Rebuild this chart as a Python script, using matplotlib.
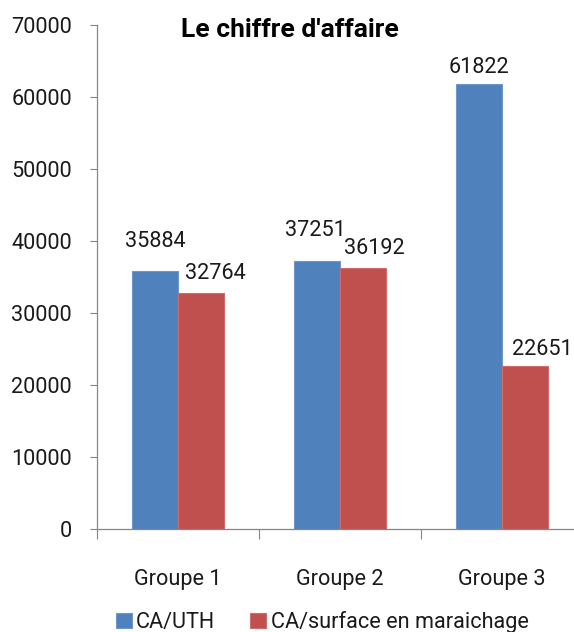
import matplotlib
matplotlib.use("Agg")
import matplotlib.pyplot as plt
from matplotlib import font_manager
import numpy as np

groups = ["Groupe 1", "Groupe 2", "Groupe 3"]
series_names = ["CA/UTH", "CA/surface en maraichage"]
ca_uth = [35884, 37251, 61822]
ca_surface = [32764, 36192, 22651]
y_ticks = [0, 10000, 20000, 30000, 40000, 50000, 60000, 70000]

# label offsets (pixels) from the top centre of each bar
uth_offsets = [(0, 29), (-2, 30), (0, 16)]
surf_offsets = [(14, 20), (11, 20), (17, 16)]

names = {f.name for f in font_manager.fontManager.ttflist}
base_font = "Liberation Sans Narrow" if "Liberation Sans Narrow" in names else "Roboto"
plt.rcParams["font.family"] = [base_font, "DejaVu Sans"]

blue = "#4F81BD"
red = "#C0504D"
grey = "#868686"

W, H = 574, 632
fig = plt.figure(figsize=(W / 100, H / 100), dpi=100)
ax = fig.add_axes([97 / W, (H - 529) / H, (583 - 97) / W, (529 - 25) / H])

x = np.arange(len(groups))
bw = 0.284
b1 = ax.bar(x - bw / 2, ca_uth, bw, color=blue, edgecolor="#6F97CC", linewidth=0.8, label=series_names[0])
b2 = ax.bar(x + bw / 2, ca_surface, bw, color=red, edgecolor="#D06C69", linewidth=0.8, label=series_names[1])

fs = 15.6
for rects, vals, offs in ((b1, ca_uth, uth_offsets), (b2, ca_surface, surf_offsets)):
    for r, v, (dx, dy) in zip(rects, vals, offs):
        ax.annotate(str(v), (r.get_x() + r.get_width() / 2, v),
                    xytext=(dx * 0.72, dy * 0.72), textcoords="offset points",
                    ha="center", va="center", fontsize=fs, color="#1a1a1a",
                    annotation_clip=False)

ax.set_xlim(-0.5, len(groups) - 0.5)
ax.set_ylim(0, 70000)
ax.set_yticks(y_ticks)
ax.set_yticklabels([str(t) for t in y_ticks], fontsize=fs, color="#1a1a1a")
ax.tick_params(axis="y", length=5, width=0.8, color=grey, pad=13)

ax.set_xticks(x)
ax.set_xticklabels(groups, fontsize=fs, color="#1a1a1a")
ax.tick_params(axis="x", which="major", length=0, pad=29)
ax.set_xticks(np.arange(len(groups) + 1) - 0.5, minor=True)
ax.tick_params(axis="x", which="minor", length=7, width=0.8, color=grey, direction="out")

for s in ("top", "right"):
    ax.spines[s].set_visible(False)
for s in ("left", "bottom"):
    ax.spines[s].set_color(grey)
    ax.spines[s].set_linewidth(0.9)

fig.text(290 / W, 1 - 30 / H, "Le chiffre d'affaire", ha="center", va="center",
         fontsize=19, fontweight="bold", color="#000000")

leg = fig.legend(handles=[b1, b2], labels=series_names, loc="center",
                 bbox_to_anchor=(322 / W, 1 - 622 / H), ncol=2, frameon=False,
                 fontsize=fs, handlelength=0.75, handleheight=0.75,
                 handletextpad=0.2, columnspacing=1.6)
for t in leg.get_texts():
    t.set_color("#1a1a1a")

fig.savefig("out.png", dpi=100)
